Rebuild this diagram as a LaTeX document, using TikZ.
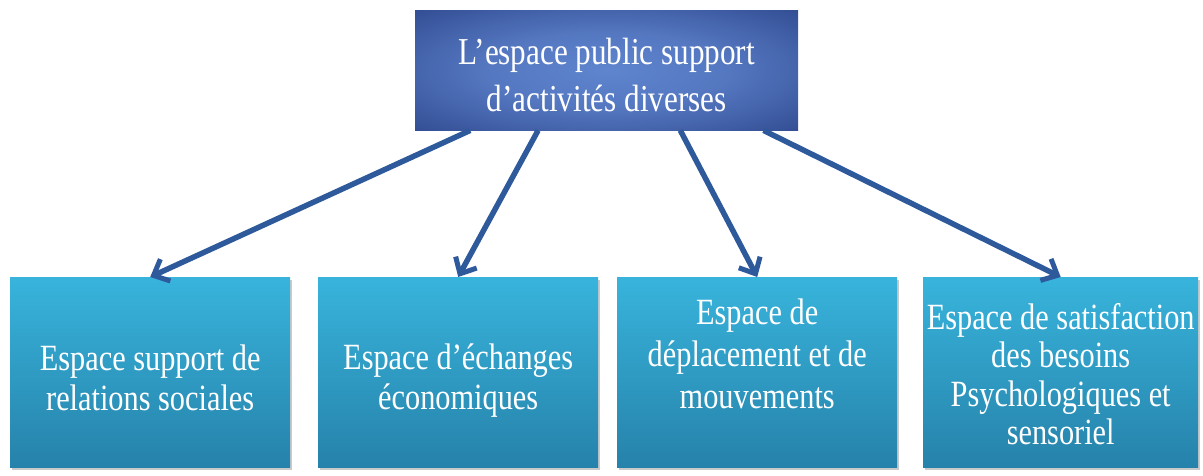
\documentclass[tikz,border=0pt]{standalone}
\usepackage{fontspec}
\setmainfont{Liberation Serif}[FakeStretch=0.82]
\usetikzlibrary{arrows.meta,calc,shadows}
\definecolor{navyedge}{HTML}{14276B}
\definecolor{navymid}{HTML}{5F85CF}
\definecolor{cyantop}{HTML}{38B4DC}
\definecolor{cyanbot}{HTML}{2682AA}
\definecolor{arrowblue}{HTML}{2E5A9C}
\pgfdeclareradialshading{topshade}{\pgfpoint{0bp}{0bp}}{%
  color(0bp)=(navymid);
  color(16bp)=(navymid!85!navyedge);
  color(36bp)=(navymid!40!navyedge);
  color(50bp)=(navyedge);
  color(75bp)=(navyedge)}
% shift text: #1 extra height (moves text down by half), #2 extra depth (moves up by half)
\newcommand{\shiftbox}[3]{\raisebox{0pt}[\dimexpr\height+#1\relax][\dimexpr\depth+#2\relax]{#3}}
\tikzset{
  topbox/.style={rectangle, inner sep=0pt, minimum width=383pt, minimum height=120pt,
    shading=topshade, text=white, align=center,
    font=\fontsize{38}{45}\selectfont},
  leafbox/.style={rectangle, inner sep=0pt, minimum width=280pt, minimum height=190pt,
    top color=cyantop, bottom color=cyanbot, text=white, align=center,
    drop shadow={shadow xshift=2pt, shadow yshift=-3pt, opacity=0.35, fill=black!60}},
  conn/.style={draw=arrowblue, line width=5.5pt,
    -{Straight Barb[length=13pt,width=24pt,line width=5pt]}}
}
\begin{document}
\begin{tikzpicture}[x=1pt,y=-1pt]
\useasboundingbox (0,0) rectangle (1203,475);
\node[topbox, anchor=north west] (top) at (415,10) {\shiftbox{18pt}{0pt}{\begin{tabular}{@{}c@{}}L’espace public support\\[2pt]d’activités diverses\end{tabular}}};
\node[leafbox, anchor=north west, font=\fontsize{37}{40}\selectfont] (b1) at (10,277) {\shiftbox{20pt}{0pt}{\begin{tabular}{@{}c@{}}Espace support de\\relations sociales\end{tabular}}};
\node[leafbox, anchor=north west, font=\fontsize{37}{40}\selectfont] (b2) at (318,277) {\shiftbox{18pt}{0pt}{\begin{tabular}{@{}c@{}}Espace d’échanges\\économiques\end{tabular}}};
\node[leafbox, anchor=north west, font=\fontsize{37}{42}\selectfont] (b3) at (617,277) {\shiftbox{0pt}{28pt}{\begin{tabular}{@{}c@{}}Espace de\\déplacement et de\\mouvements\end{tabular}}};
\node[leafbox, anchor=north west, minimum width=275pt, font=\fontsize{37}{38.5}\selectfont] (b4) at (923,277) {\shiftbox{14pt}{0pt}{\begin{tabular}{@{}c@{}}Espace de satisfaction\\des besoins\\Psychologiques et\\sensoriel\end{tabular}}};
\coordinate (s1) at ($(top.south west)!0.144!(top.south east)$);
\coordinate (s2) at ($(top.south west)!0.321!(top.south east)$);
\coordinate (s3) at ($(top.south west)!0.692!(top.south east)$);
\coordinate (s4) at ($(top.south west)!0.909!(top.south east)$);
\draw[conn] (s1) -- (b1.north);
\draw[conn] (s2) -- (b2.north);
\draw[conn] (s3) -- (b3.north);
\draw[conn] (s4) -- (b4.north);
\end{tikzpicture}
\end{document}
